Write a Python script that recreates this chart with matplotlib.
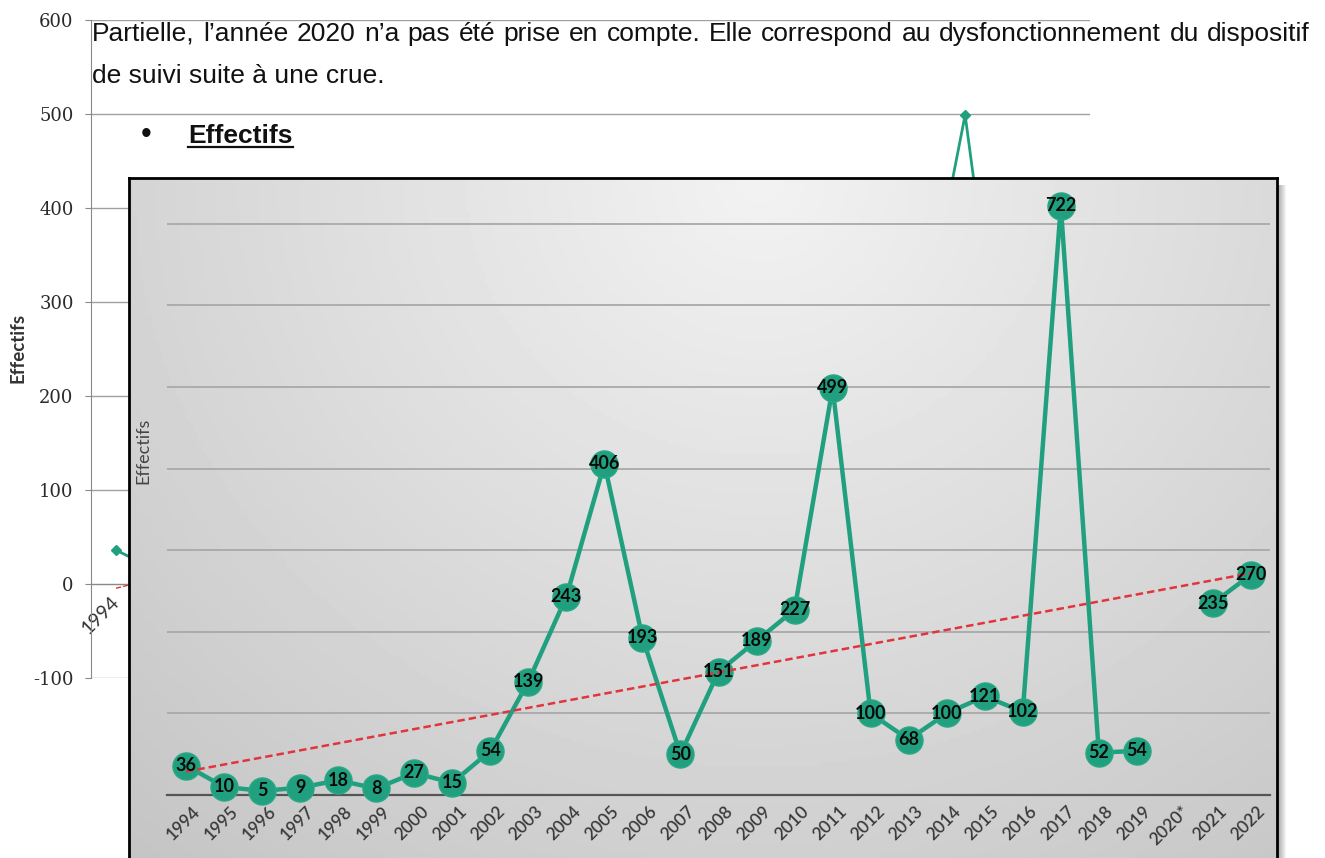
import numpy as np
import matplotlib
matplotlib.use("Agg")
import matplotlib.pyplot as plt
import matplotlib.transforms as mtransforms
from matplotlib.lines import Line2D
from matplotlib.patches import Rectangle

W, H = 1325, 858

# ---- data -----------------------------------------------------------------
years = ["1994", "1995", "1996", "1997", "1998", "1999", "2000", "2001",
         "2002", "2003", "2004", "2005", "2006", "2007", "2008", "2009",
         "2010", "2011", "2012", "2013", "2014", "2015", "2016", "2017",
         "2018", "2019", "2020*", "2021", "2022"]
effectifs = [36, 10, 5, 9, 18, 8, 27, 15, 54, 139, 243, 406, 193, 50, 151,
             189, 227, 499, 100, 68, 100, 121, 102, 722, 52, 54, np.nan,
             235, 270]

# older chart visible behind the new one (1994-2013)
old_years = years[:20]
old_effectifs = effectifs[:20]
old_yticks = [-100, 0, 100, 200, 300, 400, 500, 600]

line1 = ("Partielle, l’année 2020 n’a pas été prise en compte. Elle "
         "correspond au dysfonctionnement du dispositif")
line2 = "de suivi suite à une crue."
bullet_title = "Effectifs"

teal = "#21a07f"
red = "#e2343c"


def px(x, y, w, h):
    # pixel box (top-left origin) -> figure fraction
    return [x / W, 1 - (y + h) / H, w / W, h / H]


fig = plt.figure(figsize=(W / 100, H / 100), dpi=100)
fig.patch.set_facecolor("white")

# ---- old chart in the background ------------------------------------------
ax_bg = fig.add_axes(px(91, 20, 999, 658), zorder=0)
ax_bg.set_xlim(-0.5, 19.5)
ax_bg.set_ylim(-100, 600)
ax_bg.set_yticks(old_yticks)
ax_bg.set_yticklabels([str(v) for v in old_yticks], family="DejaVu Serif",
                      fontsize=13, color="#2a2a2a")
ax_bg.grid(axis="y", color="#a0a0a0", lw=1)
ax_bg.set_axisbelow(True)
for s in ["top", "right"]:
    ax_bg.spines[s].set_visible(False)
ax_bg.spines["left"].set_color("#8a8a8a")
ax_bg.spines["bottom"].set_position(("data", 0))
ax_bg.spines["bottom"].set_color("#8a8a8a")
ax_bg.tick_params(axis="y", length=4.5, color="#8a8a8a", pad=8)
ax_bg.set_xticks(range(len(old_years)))
ax_bg.set_xticklabels(old_years, rotation=45, ha="right", va="center",
                      rotation_mode="anchor", family="Lato", fontsize=14,
                      color="#333333")
ax_bg.tick_params(axis="x", length=0, pad=11)

xo = np.arange(len(old_effectifs))
ax_bg.plot(xo, old_effectifs, color=teal, lw=2, marker="D", ms=5)
co = np.polyfit(xo, old_effectifs, 1)
ax_bg.plot(xo, np.polyval(co, xo), color=red, lw=1, ls="--")
fig.text(18 / W, 1 - 348 / H, "Effectifs", rotation=90, ha="center",
         va="center", family="Lato", fontweight="bold", fontsize=13.5,
         color="#333333")

# ---- new chart: box with gradient -----------------------------------------
ax_box = fig.add_axes(px(129, 178, 1148, 700), zorder=1)
ny, nx = 200, 300
gx, gy = np.meshgrid(np.linspace(0, 1, nx), np.linspace(0, 1, ny))
shade = 0.95 - 0.14 * np.hypot((gx - 0.55) / 0.65, gy / 1.0)
ax_box.imshow(np.clip(shade, 0, 1), extent=[0, 1, 0, 1], aspect="auto",
              cmap="gray", vmin=0, vmax=1, origin="upper")
ax_box.set_xlim(0, 1)
ax_box.set_ylim(0, 1)
ax_box.set_xticks([])
ax_box.set_yticks([])
for s in ["top", "left", "right"]:
    ax_box.spines[s].set_color("black")
    ax_box.spines[s].set_linewidth(2)
ax_box.spines["bottom"].set_visible(False)

# soft shadow on the right
for i in range(1, 9):
    fig.patches.append(Rectangle((1278 / W, 0), i / W, (858 - 185) / H,
                                 transform=fig.transFigure, color="black",
                                 alpha=0.045, zorder=0.9, lw=0))

ax = fig.add_axes(px(167, 190, 1103, 605), zorder=2)
ax.patch.set_alpha(0)
ax.set_xlim(-0.5, len(years) - 0.5)
ax.set_ylim(0, 605 / 0.816)
ax.set_yticks(range(0, 800, 100))
ax.tick_params(axis="y", length=0, labelleft=False)
ax.set_xticks([])
ax.grid(axis="y", color="#a9a9a9", lw=1.3)
ax.set_axisbelow(True)
for s in ["top", "left", "right"]:
    ax.spines[s].set_visible(False)
ax.spines["bottom"].set_color("#555555")
ax.spines["bottom"].set_linewidth(1.6)

x = np.arange(len(years))
y = np.array(effectifs, dtype=float)
ax.plot(x, y, color=teal, lw=3.2, marker="o", ms=19.5, mfc=teal,
        mec="#2aa886", mew=1, clip_on=False, zorder=3)

ok = ~np.isnan(y)
coef = np.polyfit(x[ok], y[ok], 1)
ax.plot(x, np.polyval(coef, x), color=red, lw=1.8, ls=(0, (3, 1.6)),
        zorder=4, clip_on=False)

for i, v in enumerate(effectifs):
    if np.isnan(v):
        continue
    ax.text(i, v, str(int(v)), ha="center", va="center", family="Lato",
            fontweight="bold", fontsize=13, color="#0a0a0a", zorder=5)

off = mtransforms.ScaledTranslation(0.06, -0.08, fig.dpi_scale_trans)
for i, yr in enumerate(years):
    ax.text(i, 0, yr, transform=ax.get_xaxis_transform() + off, rotation=45,
            ha="right", va="top", rotation_mode="anchor", family="Lato",
            fontweight="semibold", fontsize=12.5, color="#3a3a3a")

fig.text(143 / W, 1 - 451 / H, "Effectifs", rotation=90, ha="center",
         va="center", family="Lato", fontsize=13, color="#444444")

# ---- document text on top --------------------------------------------------
r = fig.canvas.get_renderer()
words = line1.split(" ")
tw = []
for w in words:
    t = fig.text(0, 1 - 41 / H, w, family="Liberation Sans", fontsize=19,
                 va="baseline", color="#111111")
    tw.append((t, t.get_window_extent(r).width))
gap = (1310 - 92 - sum(w for _, w in tw)) / (len(tw) - 1)
xpos = 92
for t, w in tw:
    t.set_x(xpos / W)
    xpos += w + gap

fig.text(92 / W, 1 - 83 / H, line2, family="Liberation Sans", fontsize=19,
         va="baseline", color="#111111")
fig.text(146 / W, 1 - 143 / H, "•", family="Liberation Sans", fontsize=22,
         ha="center", va="baseline", color="#111111")
tt = fig.text(188 / W, 1 - 143 / H, bullet_title, family="Liberation Sans",
              fontsize=19, fontweight="bold", va="baseline", color="#111111")
bb = tt.get_window_extent(r)
fig.lines.append(Line2D([bb.x0 / W, bb.x1 / W], [1 - 147 / H, 1 - 147 / H],
                        transform=fig.transFigure, color="#111111", lw=1.6))

fig.savefig("out.png", dpi=100)
